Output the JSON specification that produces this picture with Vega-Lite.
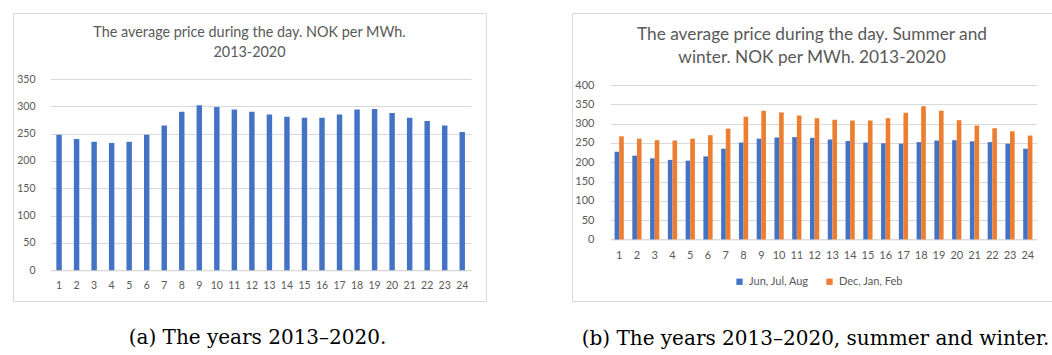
{
  "$schema": "https://vega.github.io/schema/vega-lite/v6.json",
  "padding": {"left": 12, "top": 12, "right": 0, "bottom": 0},
  "autosize": {"type": "pad"},
  "background": "white",
  "spacing": 84,
  "resolve": {"legend": {"color": "independent"}, "scale": {"color": "independent", "x": "independent", "y": "independent"}},
  "config": {
    "view": {"stroke": "#d9d9d9", "strokeWidth": 1},
    "font": "Lato",
    "axis": {"labelColor": "#595959", "labelFont": "Lato", "gridColor": "#d9d9d9", "domainColor": "#d9d9d9", "ticks": false, "tickSize": 0}
  },
  "datasets": {
    "daily": [
      {"hour": 1, "price": 248}, {"hour": 2, "price": 240}, {"hour": 3, "price": 235}, {"hour": 4, "price": 233},
      {"hour": 5, "price": 235}, {"hour": 6, "price": 248}, {"hour": 7, "price": 265}, {"hour": 8, "price": 290},
      {"hour": 9, "price": 302}, {"hour": 10, "price": 299}, {"hour": 11, "price": 294}, {"hour": 12, "price": 290},
      {"hour": 13, "price": 285}, {"hour": 14, "price": 281}, {"hour": 15, "price": 279}, {"hour": 16, "price": 279},
      {"hour": 17, "price": 285}, {"hour": 18, "price": 294}, {"hour": 19, "price": 295}, {"hour": 20, "price": 288},
      {"hour": 21, "price": 279}, {"hour": 22, "price": 273}, {"hour": 23, "price": 265}, {"hour": 24, "price": 253}
    ],
    "seasonal": [
      {"hour": 1, "season": "Jun, Jul, Aug", "price": 227}, {"hour": 1, "season": "Dec, Jan, Feb", "price": 267},
      {"hour": 2, "season": "Jun, Jul, Aug", "price": 217}, {"hour": 2, "season": "Dec, Jan, Feb", "price": 261},
      {"hour": 3, "season": "Jun, Jul, Aug", "price": 210}, {"hour": 3, "season": "Dec, Jan, Feb", "price": 257},
      {"hour": 4, "season": "Jun, Jul, Aug", "price": 206}, {"hour": 4, "season": "Dec, Jan, Feb", "price": 256},
      {"hour": 5, "season": "Jun, Jul, Aug", "price": 204}, {"hour": 5, "season": "Dec, Jan, Feb", "price": 261},
      {"hour": 6, "season": "Jun, Jul, Aug", "price": 215}, {"hour": 6, "season": "Dec, Jan, Feb", "price": 270},
      {"hour": 7, "season": "Jun, Jul, Aug", "price": 235}, {"hour": 7, "season": "Dec, Jan, Feb", "price": 287},
      {"hour": 8, "season": "Jun, Jul, Aug", "price": 251}, {"hour": 8, "season": "Dec, Jan, Feb", "price": 318},
      {"hour": 9, "season": "Jun, Jul, Aug", "price": 261}, {"hour": 9, "season": "Dec, Jan, Feb", "price": 333},
      {"hour": 10, "season": "Jun, Jul, Aug", "price": 264}, {"hour": 10, "season": "Dec, Jan, Feb", "price": 329},
      {"hour": 11, "season": "Jun, Jul, Aug", "price": 265}, {"hour": 11, "season": "Dec, Jan, Feb", "price": 321},
      {"hour": 12, "season": "Jun, Jul, Aug", "price": 263}, {"hour": 12, "season": "Dec, Jan, Feb", "price": 314},
      {"hour": 13, "season": "Jun, Jul, Aug", "price": 259}, {"hour": 13, "season": "Dec, Jan, Feb", "price": 310},
      {"hour": 14, "season": "Jun, Jul, Aug", "price": 255}, {"hour": 14, "season": "Dec, Jan, Feb", "price": 308},
      {"hour": 15, "season": "Jun, Jul, Aug", "price": 251}, {"hour": 15, "season": "Dec, Jan, Feb", "price": 308},
      {"hour": 16, "season": "Jun, Jul, Aug", "price": 249}, {"hour": 16, "season": "Dec, Jan, Feb", "price": 314},
      {"hour": 17, "season": "Jun, Jul, Aug", "price": 248}, {"hour": 17, "season": "Dec, Jan, Feb", "price": 328},
      {"hour": 18, "season": "Jun, Jul, Aug", "price": 252}, {"hour": 18, "season": "Dec, Jan, Feb", "price": 345},
      {"hour": 19, "season": "Jun, Jul, Aug", "price": 256}, {"hour": 19, "season": "Dec, Jan, Feb", "price": 333},
      {"hour": 20, "season": "Jun, Jul, Aug", "price": 257}, {"hour": 20, "season": "Dec, Jan, Feb", "price": 309},
      {"hour": 21, "season": "Jun, Jul, Aug", "price": 254}, {"hour": 21, "season": "Dec, Jan, Feb", "price": 295},
      {"hour": 22, "season": "Jun, Jul, Aug", "price": 252}, {"hour": 22, "season": "Dec, Jan, Feb", "price": 288},
      {"hour": 23, "season": "Jun, Jul, Aug", "price": 248}, {"hour": 23, "season": "Dec, Jan, Feb", "price": 280},
      {"hour": 24, "season": "Jun, Jul, Aug", "price": 235}, {"hour": 24, "season": "Dec, Jan, Feb", "price": 269}
    ]
  },
  "hconcat": [
    {
      "width": 473,
      "height": 288,
      "data": {"name": "daily"},
      "title": {"text": ["The average price during the day. NOK per MWh.", "2013-2020"], "orient": "top", "anchor": "middle", "frame": "group", "offset": -47, "font": "Lato", "fontSize": 14.4, "fontWeight": "normal", "color": "#595959", "lineHeight": 19.5},
      "mark": {"type": "bar", "color": "#4472C4"},
      "encoding": {
        "x": {"field": "hour", "type": "ordinal", "scale": {"range": [37.3, 458], "paddingInner": 0.69, "paddingOuter": 0.345},
          "axis": {"labelAngle": 0, "offset": -30.7, "labelPadding": 10, "labelFontSize": 10.5,
            "title": "(a) The years 2013–2020.", "titleFont": "DejaVu Serif", "titleFontSize": 20, "titleFontWeight": "normal", "titleColor": "black", "titlePadding": 37, "titleX": 244}},
        "y": {"field": "price", "type": "quantitative", "scale": {"domain": [0, 350], "range": [257.3, 66], "nice": false},
          "axis": {"values": [0, 50, 100, 150, 200, 250, 300, 350], "offset": -22, "labelPadding": 0, "domain": false, "grid": true, "labelFontSize": 10.5, "title": null}}
      }
    },
    {
      "width": 480,
      "height": 288,
      "data": {"name": "seasonal"},
      "title": {"text": ["The average price during the day. Summer and", "winter. NOK per MWh. 2013-2020"], "orient": "top", "anchor": "middle", "frame": "group", "offset": -53, "font": "Lato", "fontSize": 17.3, "fontWeight": "normal", "color": "#595959", "lineHeight": 23},
      "mark": {"type": "bar"},
      "encoding": {
        "x": {"field": "hour", "type": "ordinal", "scale": {"range": [38.3, 464.7], "paddingInner": 0.48, "paddingOuter": 0.24},
          "axis": {"labelAngle": 0, "offset": -61.6, "labelPadding": 10, "labelFontSize": 11,
            "title": "(b) The years 2013–2020, summer and winter.", "titleFont": "DejaVu Serif", "titleFontSize": 20, "titleFontWeight": "normal", "titleColor": "black", "titlePadding": 68, "titleX": 243}},
        "xOffset": {"field": "season", "type": "nominal", "scale": {"domain": ["Jun, Jul, Aug", "Dec, Jan, Feb"], "paddingInner": 0, "paddingOuter": 0}},
        "y": {"field": "price", "type": "quantitative", "scale": {"domain": [0, 400], "range": [226.4, 72], "nice": false},
          "axis": {"values": [0, 50, 100, 150, 200, 250, 300, 350, 400], "offset": -22, "labelPadding": 0, "domain": false, "grid": true, "labelFontSize": 11, "title": null}},
        "color": {"field": "season", "type": "nominal", "scale": {"domain": ["Jun, Jul, Aug", "Dec, Jan, Feb"], "range": ["#4472C4", "#ED7D31"]},
          "legend": {"orient": "none", "legendX": 162, "legendY": 263, "direction": "horizontal", "title": null, "symbolType": "square", "symbolSize": 40, "symbolStrokeWidth": 0, "labelFontSize": 11, "labelColor": "#595959", "columnPadding": 15, "labelOffset": 4}}
      }
    }
  ]
}
